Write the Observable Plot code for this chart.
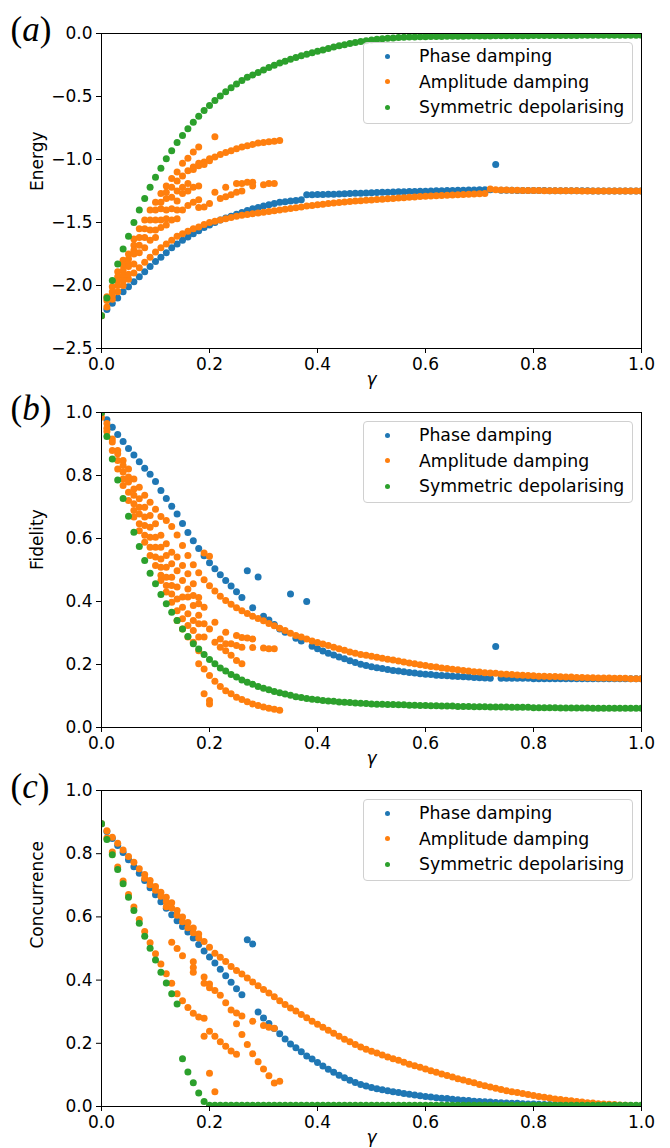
<!DOCTYPE html>
<html><head><meta charset="utf-8">
<script src="https://cdn.jsdelivr.net/npm/d3@7"></script>
<script src="https://cdn.jsdelivr.net/npm/@observablehq/plot@0.6"></script>
<style>
html,body{margin:0;padding:0;background:#fff;overflow:hidden;}
#chart{width:670px;}
.panel{position:relative;width:670px;height:auto;}
.panel svg{display:block;}
.legend{position:absolute;left:363px;width:270px;height:82px;box-sizing:border-box;border:1px solid #d0d0d0;border-radius:4px;background:rgba(255,255,255,0.8);font-family:"DejaVu Sans";font-size:17.3px;color:#000;}
.legend .row{position:absolute;left:0;height:20px;line-height:20px;white-space:nowrap;}
.legend .dot{position:absolute;left:21px;top:7.5px;width:5px;height:5px;border-radius:50%;}
.legend .lab{position:absolute;left:55px;top:0;}
</style></head><body><div id="chart"></div>
<script>
const seriesNames = ["Phase damping", "Amplitude damping", "Symmetric depolarising"];
const seriesColors = ["#1f77b4", "#ff7f0e", "#2ca02c"];
const panelLetters = ["a", "b", "c"];
const yLabels = ["Energy", "Fidelity", "Concurrence"];
const xTicks = [0, 0.2, 0.4, 0.6, 0.8, 1.0];
const energyTicks = [-2.5, -2.0, -1.5, -1.0, -0.5, 0.0];
const unitTicks = [0, 0.2, 0.4, 0.6, 0.8, 1.0];

const gamma = [0,0.01,0.02,0.03,0.04,0.05,0.06,0.07,0.08,0.09,
0.10,0.11,0.12,0.13,0.14,0.15,0.16,0.17,0.18,0.19,
0.20,0.21,0.22,0.23,0.24,0.25,0.26,0.27,0.28,0.29,
0.30,0.31,0.32,0.33,0.34,0.35,0.36,0.37,0.38,0.39,
0.40,0.41,0.42,0.43,0.44,0.45,0.46,0.47,0.48,0.49,
0.50,0.51,0.52,0.53,0.54,0.55,0.56,0.57,0.58,0.59,
0.60,0.61,0.62,0.63,0.64,0.65,0.66,0.67,0.68,0.69,
0.70,0.71,0.72,0.73,0.74,0.75,0.76,0.77,0.78,0.79,
0.80,0.81,0.82,0.83,0.84,0.85,0.86,0.87,0.88,0.89,
0.90,0.91,0.92,0.93,0.94,0.95,0.96,0.97,0.98,0.99,
1.00];

// (a) Energy
const energyPhase = [-2.24,-2.19,-2.14,-2.10,-2.05,-2.01,-1.97,-1.93,-1.89,-1.85,
-1.81,-1.775,-1.74,-1.70,-1.67,-1.64,-1.615,-1.59,-1.565,-1.54,
-1.52,-1.50,-1.48,-1.465,-1.45,-1.435,-1.42,-1.405,-1.39,-1.38,
-1.37,-1.36,-1.35,-1.34,-1.335,-1.33,-1.325,-1.32,-1.28,-1.279,
-1.278,-1.277,-1.276,-1.275,-1.274,-1.272,-1.27,-1.268,-1.267,-1.265,
-1.263,-1.262,-1.26,-1.259,-1.258,-1.256,-1.255,-1.254,-1.253,-1.252,
-1.251,-1.25,-1.249,-1.248,-1.247,-1.246,-1.245,-1.244,-1.243,-1.242,
-1.241,-1.24,-1.24,-1.04,-1.245,-1.245,-1.245,-1.246,-1.246,-1.246,
-1.247,-1.247,-1.247,-1.248,-1.248,-1.248,-1.248,-1.249,-1.249,-1.249,
-1.249,-1.25,-1.25,-1.25,-1.25,-1.25,-1.25,-1.25,-1.25,-1.25,
-1.25];
const energyAmp = [-2.24,-2.17,-2.11,-2.05,-2.00,-1.95,-1.90,-1.86,-1.815,-1.775,
-1.735,-1.70,-1.67,-1.64,-1.61,-1.59,-1.57,-1.55,-1.535,-1.515,
-1.50,-1.49,-1.48,-1.47,-1.46,-1.45,-1.443,-1.436,-1.43,-1.424,
-1.418,-1.412,-1.406,-1.40,-1.394,-1.388,-1.382,-1.376,-1.37,-1.365,
-1.36,-1.355,-1.35,-1.346,-1.342,-1.338,-1.334,-1.33,-1.327,-1.324,
-1.321,-1.318,-1.315,-1.312,-1.309,-1.306,-1.303,-1.30,-1.297,-1.294,
-1.292,-1.29,-1.288,-1.286,-1.284,-1.282,-1.28,-1.278,-1.276,-1.274,
-1.272,-1.27,-1.235,-1.24,-1.242,-1.243,-1.244,-1.245,-1.246,-1.246,
-1.247,-1.247,-1.248,-1.248,-1.248,-1.249,-1.249,-1.249,-1.249,-1.25,
-1.25,-1.25,-1.25,-1.25,-1.25,-1.25,-1.25,-1.25,-1.25,-1.25,
-1.25];
const energyAmpExtra = [
[0.01,-2.09],[0.01,-2.12],
[0.02,-2.01],[0.02,-2.05],[0.02,-2.08],
[0.03,-1.89],[0.03,-1.93],[0.03,-1.96],[0.03,-2.00],
[0.04,-1.80],[0.04,-1.84],[0.04,-1.88],[0.04,-1.92],[0.04,-1.96],
[0.05,-1.75],[0.05,-1.79],[0.05,-1.83],[0.05,-1.85],[0.05,-1.91],
[0.06,-1.63],[0.06,-1.68],[0.06,-1.72],[0.06,-1.75],[0.06,-1.83],
[0.07,-1.55],[0.07,-1.62],[0.07,-1.68],[0.07,-1.74],
[0.08,-1.48],[0.08,-1.55],[0.08,-1.62],[0.08,-1.70],
[0.09,-1.40],[0.09,-1.48],[0.09,-1.56],[0.09,-1.64],
[0.10,-1.34],[0.10,-1.40],[0.10,-1.48],[0.10,-1.56],[0.10,-1.62],
[0.11,-1.27],[0.11,-1.34],[0.11,-1.39],[0.11,-1.48],[0.11,-1.54],
[0.12,-1.21],[0.12,-1.26],[0.12,-1.31],[0.12,-1.40],[0.12,-1.47],[0.12,-1.52],
[0.13,-1.15],[0.13,-1.22],[0.13,-1.30],[0.13,-1.39],[0.13,-1.48],
[0.14,-1.10],[0.14,-1.17],[0.14,-1.25],[0.14,-1.33],[0.14,-1.40],[0.14,-1.47],
[0.15,-1.03],[0.15,-1.13],[0.15,-1.22],[0.15,-1.27],[0.15,-1.40],
[0.16,-0.99],[0.16,-1.09],[0.16,-1.19],[0.16,-1.25],[0.16,-1.365],
[0.17,-0.94],[0.17,-1.06],[0.17,-1.08],[0.17,-1.22],[0.17,-1.34],
[0.18,-0.90],[0.18,-1.03],[0.18,-1.05],[0.18,-1.21],[0.18,-1.32],[0.18,-1.38],
[0.19,-1.02],[0.19,-1.04],[0.19,-1.376],
[0.20,-0.995],[0.20,-1.01],[0.20,-1.35],
[0.21,-0.82],[0.21,-0.98],[0.21,-1.26],
[0.22,-0.96],[0.22,-1.31],
[0.23,-0.945],[0.23,-1.22],[0.23,-1.295],
[0.24,-0.93],[0.24,-1.28],
[0.25,-0.915],[0.25,-1.19],[0.25,-1.26],
[0.26,-0.90],[0.26,-1.19],[0.26,-1.25],
[0.27,-0.89],[0.27,-1.18],
[0.28,-0.88],[0.28,-1.18],[0.28,-1.21],
[0.29,-0.87],
[0.30,-0.865],[0.30,-1.20],
[0.31,-0.86],[0.31,-1.19],
[0.32,-0.855],[0.32,-1.19],
[0.33,-0.85]];
const energyDepol = [-2.24,-2.10,-1.96,-1.83,-1.71,-1.61,-1.50,-1.40,-1.31,-1.22,
-1.14,-1.07,-0.995,-0.93,-0.865,-0.81,-0.755,-0.705,-0.656,-0.611,
-0.571,-0.532,-0.497,-0.463,-0.431,-0.40,-0.373,-0.347,-0.33,-0.309,
-0.289,-0.27,-0.252,-0.235,-0.22,-0.205,-0.19,-0.177,-0.164,-0.152,
-0.141,-0.13,-0.119,-0.108,-0.098,-0.089,-0.080,-0.072,-0.064,-0.057,
-0.051,-0.046,-0.042,-0.038,-0.035,-0.032,-0.030,-0.028,-0.027,-0.026,
-0.025,-0.024,-0.023,-0.023,-0.022,-0.022,-0.021,-0.021,-0.020,-0.020,
-0.019,-0.019,-0.019,-0.018,-0.018,-0.018,-0.017,-0.017,-0.017,-0.017,
-0.016,-0.016,-0.016,-0.016,-0.015,-0.015,-0.015,-0.015,-0.015,-0.014,
-0.014,-0.014,-0.014,-0.014,-0.014,-0.013,-0.013,-0.013,-0.013,-0.013,
-0.013];

// (b) Fidelity
const fidelityPhase = [1.0,0.977,0.953,0.930,0.908,0.886,0.865,0.844,0.823,0.804,
0.781,0.752,0.727,0.702,0.678,0.648,0.619,0.593,0.568,0.545,
0.523,0.504,0.485,0.467,0.449,0.431,0.413,0.498,0.380,0.478,
0.353,0.341,0.327,0.313,0.302,0.424,0.283,0.275,0.400,0.258,
0.250,0.243,0.236,0.230,0.224,0.218,0.212,0.206,0.201,0.197,
0.193,0.190,0.187,0.184,0.181,0.179,0.177,0.175,0.173,0.171,
0.169,0.168,0.166,0.165,0.164,0.163,0.162,0.161,0.160,0.159,
0.158,0.157,0.156,0.257,0.156,0.156,0.156,0.156,0.156,0.156,
0.155,0.155,0.155,0.155,0.155,0.155,0.155,0.155,0.155,0.155,
0.155,0.155,0.155,0.155,0.155,0.155,0.155,0.155,0.155,0.155,
0.155];
const fidelityAmp = [1.0,0.965,0.916,0.879,0.848,0.821,0.789,0.763,0.737,0.715,
0.693,0.670,0.657,0.638,0.611,0.578,0.546,0.517,0.491,0.469,
0.450,0.433,0.417,0.403,0.391,0.380,0.371,0.362,0.353,0.346,
0.339,0.330,0.323,0.315,0.308,0.299,0.292,0.287,0.281,0.275,
0.270,0.265,0.260,0.255,0.250,0.245,0.240,0.236,0.232,0.229,
0.226,0.223,0.220,0.217,0.214,0.211,0.208,0.205,0.202,0.199,
0.197,0.194,0.192,0.189,0.187,0.185,0.183,0.181,0.179,0.177,
0.176,0.174,0.173,0.172,0.170,0.169,0.168,0.167,0.166,0.165,
0.164,0.163,0.163,0.162,0.162,0.161,0.160,0.160,0.159,0.159,
0.158,0.158,0.157,0.157,0.157,0.156,0.156,0.156,0.155,0.155,
0.155];
const fidelityAmpExtra = [
[0,0.985],
[0.01,0.95],[0.01,0.94],
[0.02,0.906],[0.02,0.879],
[0.03,0.869],[0.03,0.848],[0.03,0.821],
[0.04,0.832],[0.04,0.811],[0.04,0.789],[0.04,0.768],
[0.05,0.795],[0.05,0.779],[0.05,0.747],[0.05,0.721],
[0.06,0.757],[0.06,0.737],[0.06,0.710],[0.06,0.689],[0.06,0.668],
[0.07,0.726],[0.07,0.699],[0.07,0.678],[0.07,0.647],[0.07,0.625],
[0.08,0.699],[0.08,0.668],[0.08,0.641],[0.08,0.610],[0.08,0.588],
[0.09,0.673],[0.09,0.636],[0.09,0.604],[0.09,0.572],[0.09,0.546],
[0.10,0.647],[0.10,0.604],[0.10,0.572],[0.10,0.541],[0.10,0.514],
[0.11,0.610],[0.11,0.572],[0.11,0.535],[0.11,0.509],[0.11,0.483],[0.11,0.467],
[0.12,0.583],[0.12,0.546],[0.12,0.509],[0.12,0.477],[0.12,0.451],[0.12,0.430],
[0.13,0.556],[0.13,0.520],[0.13,0.477],[0.13,0.451],[0.13,0.424],[0.13,0.398],
[0.14,0.541],[0.14,0.498],[0.14,0.446],[0.14,0.408],[0.14,0.371],[0.14,0.340],
[0.15,0.514],[0.15,0.467],[0.15,0.414],[0.15,0.382],[0.15,0.345],[0.15,0.313],
[0.16,0.488],[0.16,0.440],[0.16,0.414],[0.16,0.361],[0.16,0.324],[0.16,0.287],
[0.17,0.456],[0.17,0.419],[0.17,0.387],[0.17,0.340],[0.17,0.308],[0.17,0.271],
[0.18,0.413],[0.18,0.393],[0.18,0.356],[0.18,0.329],[0.18,0.287],[0.18,0.244],[0.18,0.202],
[0.19,0.554],[0.19,0.382],[0.19,0.329],[0.19,0.287],[0.19,0.186],[0.19,0.107],
[0.20,0.544],[0.20,0.313],[0.20,0.165],[0.20,0.086],[0.20,0.075],
[0.21,0.334],[0.21,0.271],[0.21,0.147],
[0.22,0.281],[0.22,0.255],[0.22,0.130],
[0.23,0.302],[0.23,0.266],[0.23,0.244],[0.23,0.117],
[0.24,0.266],[0.24,0.229],[0.24,0.107],
[0.25,0.292],[0.25,0.260],[0.25,0.213],[0.25,0.096],
[0.26,0.286],[0.26,0.255],[0.26,0.202],[0.26,0.089],
[0.27,0.284],[0.27,0.082],
[0.28,0.281],[0.28,0.254],[0.28,0.075],
[0.29,0.070],
[0.30,0.252],[0.30,0.065],
[0.31,0.250],[0.31,0.061],
[0.32,0.250],[0.32,0.058],
[0.33,0.055]];
const fidelityDepol = [1.0,0.924,0.852,0.786,0.727,0.671,0.620,0.575,0.530,0.490,
0.456,0.422,0.393,0.366,0.340,0.313,0.289,0.266,0.249,0.232,
0.216,0.202,0.189,0.179,0.168,0.160,0.151,0.144,0.137,0.130,
0.125,0.120,0.114,0.110,0.106,0.102,0.098,0.095,0.092,0.090,
0.088,0.086,0.084,0.083,0.081,0.080,0.079,0.078,0.077,0.076,
0.075,0.074,0.074,0.073,0.073,0.072,0.072,0.071,0.071,0.070,
0.070,0.069,0.069,0.068,0.068,0.068,0.067,0.067,0.067,0.066,
0.066,0.066,0.065,0.065,0.065,0.065,0.064,0.064,0.064,0.064,
0.063,0.063,0.063,0.063,0.063,0.062,0.062,0.062,0.062,0.062,
0.062,0.061,0.061,0.061,0.061,0.061,0.061,0.061,0.061,0.061,
0.061];

// (c) Concurrence
const concPhase = [0.895,0.870,0.848,0.826,0.804,0.781,0.759,0.738,0.715,0.692,
0.670,0.648,0.627,0.607,0.588,0.570,0.552,0.533,0.513,0.492,
0.473,0.454,0.434,0.414,0.393,0.373,0.354,0.528,0.514,0.299,
0.280,0.263,0.247,0.230,0.214,0.198,0.186,0.173,0.160,0.150,
0.139,0.128,0.118,0.108,0.099,0.091,0.083,0.076,0.070,0.065,
0.060,0.056,0.053,0.050,0.047,0.044,0.041,0.039,0.036,0.034,
0.032,0.030,0.028,0.026,0.025,0.023,0.021,0.020,0.019,0.017,
0.016,0.015,0.014,0.013,0.012,0.011,0.010,0.010,0.009,0.008,
0.008,0.007,0.006,0.006,0.005,0.005,0.004,0.004,0.004,0.003,
0.003,0.003,0.002,0.002,0.002,0.002,0.001,0.001,0.001,0.001,
0.001];
const concAmp = [0.895,0.873,0.852,0.833,0.812,0.791,0.773,0.752,0.734,0.715,
0.696,0.678,0.662,0.645,0.620,0.600,0.582,0.565,0.546,0.522,
0.504,0.485,0.472,0.459,0.443,0.430,0.419,0.407,0.394,0.382,
0.370,0.359,0.347,0.335,0.323,0.312,0.302,0.291,0.281,0.270,
0.260,0.251,0.241,0.232,0.222,0.213,0.205,0.196,0.188,0.181,
0.175,0.169,0.163,0.157,0.151,0.146,0.140,0.134,0.129,0.124,
0.119,0.113,0.108,0.103,0.098,0.093,0.088,0.084,0.079,0.075,
0.070,0.066,0.062,0.058,0.054,0.050,0.047,0.044,0.041,0.038,
0.035,0.032,0.029,0.027,0.024,0.022,0.020,0.018,0.016,0.014,
0.012,0.011,0.009,0.008,0.007,0.006,0.005,0.004,0.003,0.002,
0.002];
const concAmpExtra = [
[0.08,0.722],[0.09,0.702],[0.10,0.684],[0.11,0.665],[0.12,0.648],[0.12,0.632],[0.13,0.628],
[0.14,0.605],[0.15,0.585],[0.16,0.566],[0.17,0.550],[0.18,0.533],
[0.01,0.850],[0.02,0.805],[0.03,0.758],[0.04,0.714],[0.05,0.671],[0.06,0.631],[0.07,0.592],
[0.08,0.554],[0.09,0.518],[0.10,0.483],[0.11,0.451],[0.12,0.420],[0.13,0.390],[0.14,0.357],
[0.15,0.335],[0.16,0.313],[0.17,0.295],[0.18,0.283],[0.19,0.279],
[0.19,0.222],[0.20,0.238],[0.21,0.222],[0.22,0.205],[0.23,0.191],[0.24,0.176],[0.25,0.165],
[0.13,0.520],[0.14,0.500],[0.15,0.477],[0.17,0.458],[0.17,0.440],[0.17,0.425],[0.19,0.410],
[0.19,0.390],[0.20,0.388],[0.20,0.376],[0.21,0.367],[0.22,0.352],[0.23,0.328],[0.24,0.305],
[0.25,0.296],[0.26,0.286],
[0.25,0.262],[0.26,0.228],[0.27,0.196],[0.28,0.270],[0.28,0.167],[0.29,0.142],[0.30,0.256],
[0.30,0.119],[0.31,0.251],[0.31,0.097],[0.32,0.248],[0.32,0.074],[0.33,0.080],
[0.20,0.105],[0.21,0.047]];
const concDepol = [0.895,0.845,0.797,0.750,0.705,0.662,0.620,0.580,0.539,0.501,
0.464,0.425,0.391,0.357,0.324,0.151,0.109,0.075,0.043,0.016,
0.004,0.004,0.004,0.004,0.004,0.004,0.004,0.004,0.004,0.004,
0.004,0.004,0.004,0.004,0.004,0.004,0.004,0.004,0.004,0.004,
0.004,0.004,0.004,0.004,0.004,0.004,0.004,0.004,0.004,0.004,
0.004,0.004,0.004,0.004,0.004,0.004,0.004,0.004,0.004,0.004,
0.004,0.004,0.004,0.004,0.004,0.004,0.004,0.004,0.004,0.004,
0.004,0.004,0.004,0.004,0.004,0.004,0.004,0.004,0.004,0.004,
0.004,0.004,0.004,0.004,0.004,0.004,0.004,0.004,0.004,0.004,
0.004,0.004,0.004,0.004,0.004,0.004,0.004,0.004,0.004,0.004,
0.004];

const panels = [
  {letter: panelLetters[0], label: yLabels[0], domain: [-2.5, 0], ticks: energyTicks, height: 390, mt: 33, mb: 42,
   phase: energyPhase, amp: energyAmp, ampExtra: energyAmpExtra, depol: energyDepol},
  {letter: panelLetters[1], label: yLabels[1], domain: [0, 1], ticks: unitTicks, height: 380, mt: 22, mb: 43,
   phase: fidelityPhase, amp: fidelityAmp, ampExtra: fidelityAmpExtra, depol: fidelityDepol},
  {letter: panelLetters[2], label: yLabels[2], domain: [0, 1], ticks: unitTicks, height: 378, mt: 20, mb: 42,
   phase: concPhase, amp: concAmp, ampExtra: concAmpExtra, depol: concDepol}
];

const fmt = d3.format(".1f");
const rowsOf = (vals, s) => vals.map((v, i) => ({gamma: gamma[i], value: v, series: s}));
const rowsOfPairs = (pairs, s) => pairs.map(([g, v]) => ({gamma: g, value: v, series: s}));

const chart = document.getElementById("chart");
for (const p of panels) {
  const phaseRows = rowsOf(p.phase, seriesNames[0]);
  const ampRows = rowsOf(p.amp, seriesNames[1]).concat(rowsOfPairs(p.ampExtra, seriesNames[1]));
  const depolRows = rowsOf(p.depol, seriesNames[2]);
  const dotOpts = {x: "gamma", y: "value", fill: "series", r: 3.5, clip: true};
  const svg = Plot.plot({
    width: 670, height: p.height,
    marginLeft: 101, marginRight: 29, marginTop: p.mt, marginBottom: p.mb,
    style: {fontFamily: "DejaVu Sans", fontSize: "17px", background: "white", color: "black", overflow: "visible"},
    x: {domain: [0, 1]},
    y: {domain: p.domain},
    color: {domain: seriesNames, range: seriesColors},
    marks: [
      Plot.dot(phaseRows, dotOpts),
      Plot.dot(ampRows, dotOpts),
      Plot.dot(depolRows, dotOpts),
      Plot.frame({stroke: "black", strokeWidth: 1}),
      Plot.axisX({ticks: xTicks, tickFormat: fmt, tickSize: 5, tickPadding: 4, label: null, fontSize: 17}),
      Plot.axisY({ticks: p.ticks, tickFormat: fmt, tickSize: 5, tickPadding: 4, label: null, fontSize: 17}),
      Plot.text([p.label], {frameAnchor: "left", dx: -64, rotate: -90, fontSize: 17, lineAnchor: "middle"}),
      Plot.text(["γ"], {frameAnchor: "bottom", dy: 31, fontStyle: "italic", fontSize: 17, lineAnchor: "middle"}),
      Plot.text([`(${p.letter})`], {frameAnchor: "top-left", dx: -91, dy: -4, textAnchor: "start", lineAnchor: "middle", fontSize: 35, fontFamily: "Liberation Serif"})
    ]
  });
  // italic letter inside upright parentheses
  svg.querySelectorAll("text").forEach(t => {
    if (t.textContent === `(${p.letter})`) {
      t.textContent = "";
      const ns = "http://www.w3.org/2000/svg";
      const a = document.createElementNS(ns, "tspan"); a.textContent = "(";
      const b = document.createElementNS(ns, "tspan"); b.textContent = p.letter; b.setAttribute("font-style", "italic");
      const c = document.createElementNS(ns, "tspan"); c.textContent = ")";
      t.append(a, b, c);
    }
  });
  const wrap = document.createElement("div");
  wrap.className = "panel";
  wrap.appendChild(svg);
  const leg = document.createElement("div");
  leg.className = "legend";
  leg.style.top = (p.mt + 9) + "px";
  seriesNames.forEach((name, i) => {
    const row = document.createElement("div");
    row.className = "row";
    row.style.top = (3.3 + 25.5 * i) + "px";
    const dot = document.createElement("span");
    dot.className = "dot";
    dot.style.background = seriesColors[i];
    const lab = document.createElement("span");
    lab.className = "lab";
    lab.textContent = name;
    row.append(dot, lab);
    leg.appendChild(row);
  });
  wrap.appendChild(leg);
  chart.appendChild(wrap);
}
</script></body></html>
